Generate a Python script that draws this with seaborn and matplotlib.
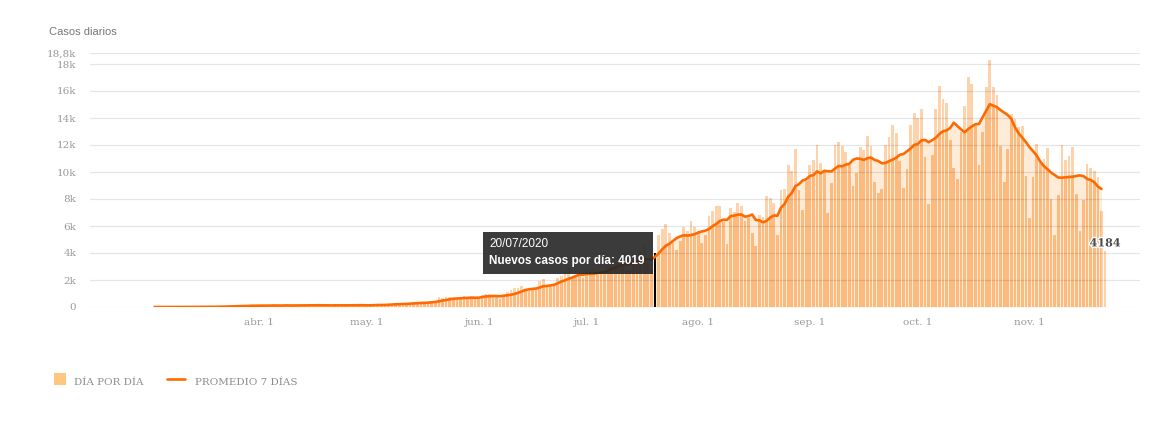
import numpy as np
import pandas as pd
import matplotlib
matplotlib.use("Agg")
import matplotlib.pyplot as plt
from matplotlib.patches import Rectangle
from matplotlib.lines import Line2D
import matplotlib.patheffects as pe
import seaborn as sns

# ---------------- data ----------------
start_date = "2020-03-03"

casos_marzo = [1, 0, 1, 6, 2, 2, 5, 2, 2, 12, 3, 11, 11, 9, 14, 14, 18, 31, 67, 41,
               36, 46, 86, 115, 87, 101, 75, 146, 88]
casos_abril = [79, 104, 132, 98, 139, 104, 90, 116, 144, 82, 115, 139, 89, 167, 98,
               143, 153, 120, 86, 111, 109, 144, 112, 172, 111, 115, 123, 124, 144, 143]
casos_mayo = [113, 111, 210, 176, 135, 158, 239, 244, 240, 255, 165, 285, 316, 345,
              337, 392, 303, 289, 474, 474, 718, 648, 723, 704, 552, 602, 600, 795,
              734, 816, 703]
casos_junio = [564, 904, 949, 929, 840, 795, 597, 826, 1141, 1226, 1386, 1391, 1531,
               1282, 1208, 1374, 1393, 1958, 2060, 1634, 1581, 1531, 2146, 2285, 2606,
               2886, 2189, 2401, 2262, 2146]
casos_julio = [2667, 2744, 2845, 2590, 2632, 2413, 2979, 3604, 3367, 3663, 3449, 2657,
               2727, 3645, 3604, 4250, 4518, 3223, 2737, 4019, 5344, 5782, 6127, 5493,
               4767, 4190, 4890, 5939, 5641, 6377, 5929]
casos_agosto = [5600, 4770, 5350, 6770, 7140, 7480, 7460, 6300, 4670, 7300, 7040, 7680,
                7480, 6370, 6600, 5460, 4540, 6800, 6670, 8200, 8100, 7700, 5300, 8700,
                8740, 10500, 10070, 11700, 8700, 7200, 9300]
casos_septiembre = [10500, 10900, 12000, 10700, 10000, 7000, 9200, 12000, 12200, 11900,
                    11500, 10500, 9000, 9900, 11850, 11650, 12700, 11900, 9260, 8440,
                    8740, 12000, 12600, 13460, 12900, 10800, 8800, 10200, 13460, 14400]
casos_octubre = [14000, 14700, 11100, 7600, 11260, 14700, 16400, 15400, 15100, 12400,
                 10300, 9500, 13000, 14900, 17060, 16500, 13500, 10500, 13000, 16300,
                 18300, 16300, 15700, 11950, 9260, 11700, 14300, 13900, 13300, 13400, 9700]
casos_noviembre = [6600, 9600, 12100, 10700, 11000, 11750, 8000, 5300, 8300, 12000,
                   10900, 11200, 11850, 8400, 5600, 7900, 10600, 10300, 10100, 9600,
                   7100, 4184]

highlight_date = "2020-07-20"
highlight_title = "20/07/2020"
highlight_text = "Nuevos casos por día: 4019"

month_ticks = ["2020-04-01", "2020-05-01", "2020-06-01", "2020-07-01",
               "2020-08-01", "2020-09-01", "2020-10-01", "2020-11-01"]
month_labels = ["abr. 1", "may. 1", "jun. 1", "jul. 1",
                "ago. 1", "sep. 1", "oct. 1", "nov. 1"]
y_ticks = [0, 2000, 4000, 6000, 8000, 10000, 12000, 14000, 16000, 18000, 18800]
y_labels = ["0", "2k", "4k", "6k", "8k", "10k", "12k", "14k", "16k", "18k", "18,8k"]
title_text = "Casos diarios"
legend_labels = ["DÍA POR DÍA", "PROMEDIO 7 DÍAS"]

# ---------------- build table ----------------
casos = (casos_marzo + casos_abril + casos_mayo + casos_junio + casos_julio +
         casos_agosto + casos_septiembre + casos_octubre + casos_noviembre)
fechas = pd.date_range(start_date, periods=len(casos), freq="D")
df = pd.DataFrame({"fecha": fechas, "casos": casos})
df["promedio"] = df["casos"].rolling(7, min_periods=1).mean()
line_df = df.iloc[:-1]

# ---------------- style ----------------
sns.set_theme(style="white")
plt.rcParams["font.family"] = ["DejaVu Serif", "DejaVu Sans"]

FILL = "#feecd9"
BAR_LIGHT = "#fed3ac"
BAR_DARK = "#fdba7e"
LINE = "#ff6a00"
SWATCH = "#ffc680"
TICK_COLOR = "#9a9a9a"

W, H = 1169, 433
fig = plt.figure(figsize=(W / 100, H / 100), dpi=100)
ax = fig.add_axes([90 / W, 1 - 307 / H, 1050 / W, (307 - 53.2) / H])

poly = ax.fill_between(line_df["fecha"], 0, line_df["promedio"], color=FILL,
                       lw=0, zorder=1.1)
bars_light = ax.bar(df["fecha"], df["casos"], width=0.75, color=BAR_LIGHT,
                    lw=0, zorder=1.2)
bars_dark = ax.bar(df["fecha"], df["casos"], width=0.75, color=BAR_DARK,
                   lw=0, zorder=1.3)
clip = poly.get_paths()[0]
for b in bars_dark:
    b.set_clip_path(clip, ax.transData)

hi = fechas.get_loc(pd.Timestamp(highlight_date))
bars_light[hi].set_facecolor("#000000")
bars_dark[hi].set_visible(False)

sns.lineplot(data=line_df, x="fecha", y="promedio", color=LINE, linewidth=1.9,
             ax=ax, zorder=3)

ax.set_ylim(0, 18800)
ax.set_xlim(fechas[0] - pd.Timedelta(days=17.9), fechas[0] + pd.Timedelta(days=273.7))
ax.set_yticks(y_ticks)
ax.set_yticklabels(y_labels)
ax.set_xticks(pd.to_datetime(month_ticks))
ax.set_xticklabels(month_labels)
ax.set_xlabel("")
ax.set_ylabel("")
for s in ax.spines.values():
    s.set_visible(False)
ax.set_axisbelow(False)
ax.grid(axis="y", color="#000000", alpha=0.1, lw=0.9)
ax.grid(axis="x", visible=False)
ax.tick_params(axis="both", length=0, labelsize=7.5, labelcolor=TICK_COLOR)
ax.tick_params(axis="y", pad=10)
ax.tick_params(axis="x", pad=8)

# last value label
ax.annotate(f"{casos[-1]}", xy=(fechas[-1], casos[-1]), xytext=(0, 1.5),
            textcoords="offset points", ha="center", va="bottom",
            fontsize=8, fontweight="bold", color="#4a4a4a",
            path_effects=[pe.withStroke(linewidth=2, foreground="white")], zorder=4)

# title
fig.text(49 / W, 1 - 35 / H, title_text, family=["Liberation Sans", "DejaVu Sans"],
         fontsize=8, color="#777777", va="baseline", ha="left")

# tooltip
fig.add_artist(Rectangle((483 / W, 1 - 274 / H), 170 / W, 42 / H,
                         transform=fig.transFigure, facecolor="#262626",
                         alpha=0.9, lw=0, zorder=10))
fig.text(489 / W, 1 - 246.7 / H, highlight_title,
         family=["Liberation Sans", "DejaVu Sans"], fontsize=8.5,
         color="white", va="baseline", ha="left", zorder=11)
fig.text(489 / W, 1 - 264.3 / H, highlight_text,
         family=["Liberation Sans", "DejaVu Sans"], fontsize=8.5, fontweight="bold",
         color="white", va="baseline", ha="left", zorder=11)

# legend
fig.add_artist(Rectangle((54 / W, 1 - 385 / H), 12 / W, 12 / H,
                         transform=fig.transFigure, facecolor=SWATCH, lw=0))
fig.text(74 / W, 1 - 385 / H, legend_labels[0], fontsize=7.5, color="#8c8c8c",
         va="baseline", ha="left")
fig.add_artist(Line2D([167 / W, 185 / W], [1 - 379 / H, 1 - 379 / H],
                      transform=fig.transFigure, color=LINE, lw=1.9))
fig.text(195 / W, 1 - 385 / H, legend_labels[1], fontsize=7.5, color="#8c8c8c",
         va="baseline", ha="left")

fig.savefig("out.png", dpi=100)
